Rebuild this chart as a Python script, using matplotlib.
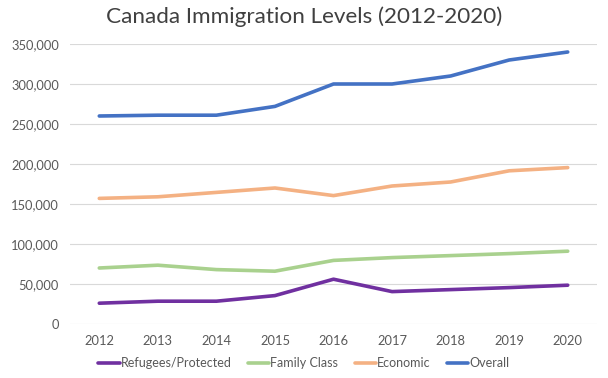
import matplotlib.pyplot as plt
from matplotlib.ticker import FuncFormatter

years = [2012, 2013, 2014, 2015, 2016, 2017, 2018, 2019, 2020]
refugees = [26000, 28500, 28500, 35500, 56000, 40500, 43000, 45500, 48500]
family = [70000, 73500, 68000, 66000, 79500, 83000, 85500, 88000, 91000]
economic = [157000, 159000, 164500, 170000, 160500, 172500, 177500, 191500, 195500]
overall = [260000, 261000, 261000, 272000, 300000, 300000, 310000, 330000, 340000]

series = [
    ('Refugees/Protected', refugees, '#7030A0'),
    ('Family Class', family, '#A9D18E'),
    ('Economic', economic, '#F4B183'),
    ('Overall', overall, '#4472C4'),
]

plt.rcParams['font.family'] = ['Lato', 'DejaVu Sans']

fig = plt.figure(figsize=(6.08, 3.78), dpi=100)
ax = fig.add_axes([70 / 608, 54 / 378, 527 / 608, 280 / 378])

for name, vals, color in series:
    ax.plot(years, vals, color=color, linewidth=2.6, label=name, solid_capstyle='round')

ax.set_xlim(2011.5, 2020.5)
ax.set_ylim(0, 350000)
ax.set_yticks(range(0, 350001, 50000))
ax.set_xticks(years)
ax.yaxis.set_major_formatter(FuncFormatter(lambda v, p: f'{int(v):,}'))
ax.grid(axis='y', color='#D9D9D9', linewidth=0.8)
ax.set_axisbelow(True)
for s in ax.spines.values():
    s.set_visible(False)
ax.tick_params(length=0, labelsize=9.3, labelcolor='#595959', pad=8)

fig.text(0.5, 1 - 17 / 378, 'Canada Immigration Levels (2012-2020)', ha='center', va='center',
         fontsize=16.2, color='#404040')

fig.legend(loc='center', bbox_to_anchor=(0.5, 1 - 363 / 378), ncol=4, frameon=False,
           fontsize=9, handlelength=1.7, handletextpad=0.1, columnspacing=1.3,
           labelcolor='#595959')

fig.savefig('out.png', dpi=100)
